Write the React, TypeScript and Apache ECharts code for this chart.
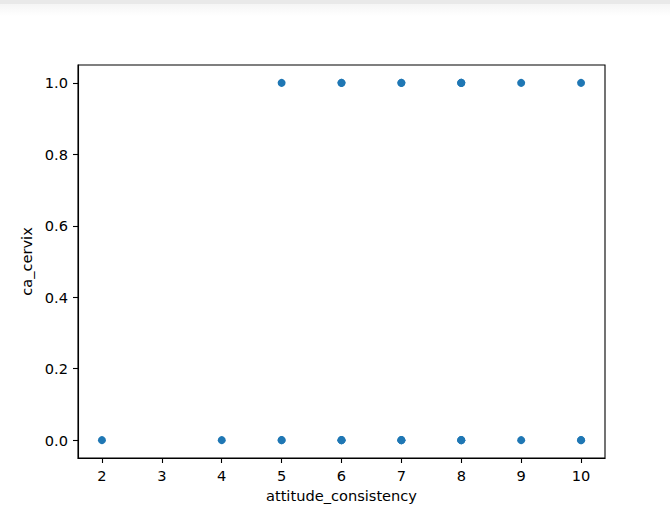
import React, { useEffect, useRef } from "react";
import * as echarts from "echarts";

// attitude_consistency (x) vs ca_cervix (y); repeated points overlap
const attitudeConsistency = [2, 4, 5, 5, 6, 6, 6, 7, 7, 7, 8, 8, 8, 9, 10, 10, 5, 6, 6, 7, 7, 8, 8, 8, 9, 10];
const caCervix = [0, 0, 0, 0, 0, 0, 0, 0, 0, 0, 0, 0, 0, 0, 0, 0, 1, 1, 1, 1, 1, 1, 1, 1, 1, 1];
const xTicks = [2, 3, 4, 5, 6, 7, 8, 9, 10];
const yTicks = [0, 0.2, 0.4, 0.6, 0.8, 1.0];

export default function App() {
  const ref = useRef<HTMLDivElement>(null);
  useEffect(() => {
    if (!ref.current) return;
    const chart = echarts.init(ref.current, null, { renderer: "svg" });
    const font = "DejaVu Sans";
    const fs = 14.6;
    const axisCommon = {
      axisLine: { show: true, onZero: false, lineStyle: { color: "#000", width: 1.1 } },
      axisTick: { show: true, inside: false, length: 5, lineStyle: { color: "#000", width: 1.1 } },
      splitLine: { show: false },
      nameTextStyle: { fontFamily: font, fontSize: fs, color: "#000" },
    };
    chart.setOption({
      animation: false,
      backgroundColor: "#fff",
      grid: {
        left: 78,
        right: 65,
        top: 65,
        bottom: 55,
        show: true,
        borderColor: "#000",
        borderWidth: 1.1,
        backgroundColor: "transparent",
      },
      graphic: [
        { type: "rect", shape: { x: 0, y: 0, width: 670, height: 4 }, style: { fill: "#e9e9e9" } },
        {
          type: "rect",
          shape: { x: 0, y: 4, width: 670, height: 12 },
          style: {
            fill: new echarts.graphic.LinearGradient(0, 0, 0, 1, [
              { offset: 0, color: "#f5f5f5" },
              { offset: 1, color: "#ffffff" },
            ]),
          },
        },
      ],
      xAxis: {
        type: "value",
        min: 1.6,
        max: 10.4,
        name: "attitude_consistency",
        nameLocation: "middle",
        nameGap: 29,
        ...axisCommon,
        axisTick: { ...axisCommon.axisTick, customValues: xTicks },
        axisLabel: {
          customValues: xTicks,
          margin: 10,
          fontFamily: font,
          fontSize: fs,
          color: "#000",
          formatter: (v: number) => String(v),
        },
      },
      yAxis: {
        type: "value",
        min: -0.05,
        max: 1.05,
        name: "ca_cervix",
        nameLocation: "middle",
        nameRotate: 90,
        nameGap: 32,
        ...axisCommon,
        axisTick: { ...axisCommon.axisTick, customValues: yTicks },
        axisLabel: {
          customValues: yTicks,
          margin: 10,
          fontFamily: font,
          fontSize: fs,
          color: "#000",
          formatter: (v: number) => v.toFixed(1),
        },
      },
      series: [
        {
          type: "scatter",
          symbol: "circle",
          symbolSize: 8,
          itemStyle: { color: "#1f77b4", opacity: 1 },
          data: attitudeConsistency.map((x, i) => [x, caCervix[i]]),
        },
      ],
    });
    return () => chart.dispose();
  }, []);
  return (
    <div
      ref={ref}
      style={{ position: "fixed", left: 0, top: 0, width: 670, height: 513, background: "#fff" }}
    />
  );
}
